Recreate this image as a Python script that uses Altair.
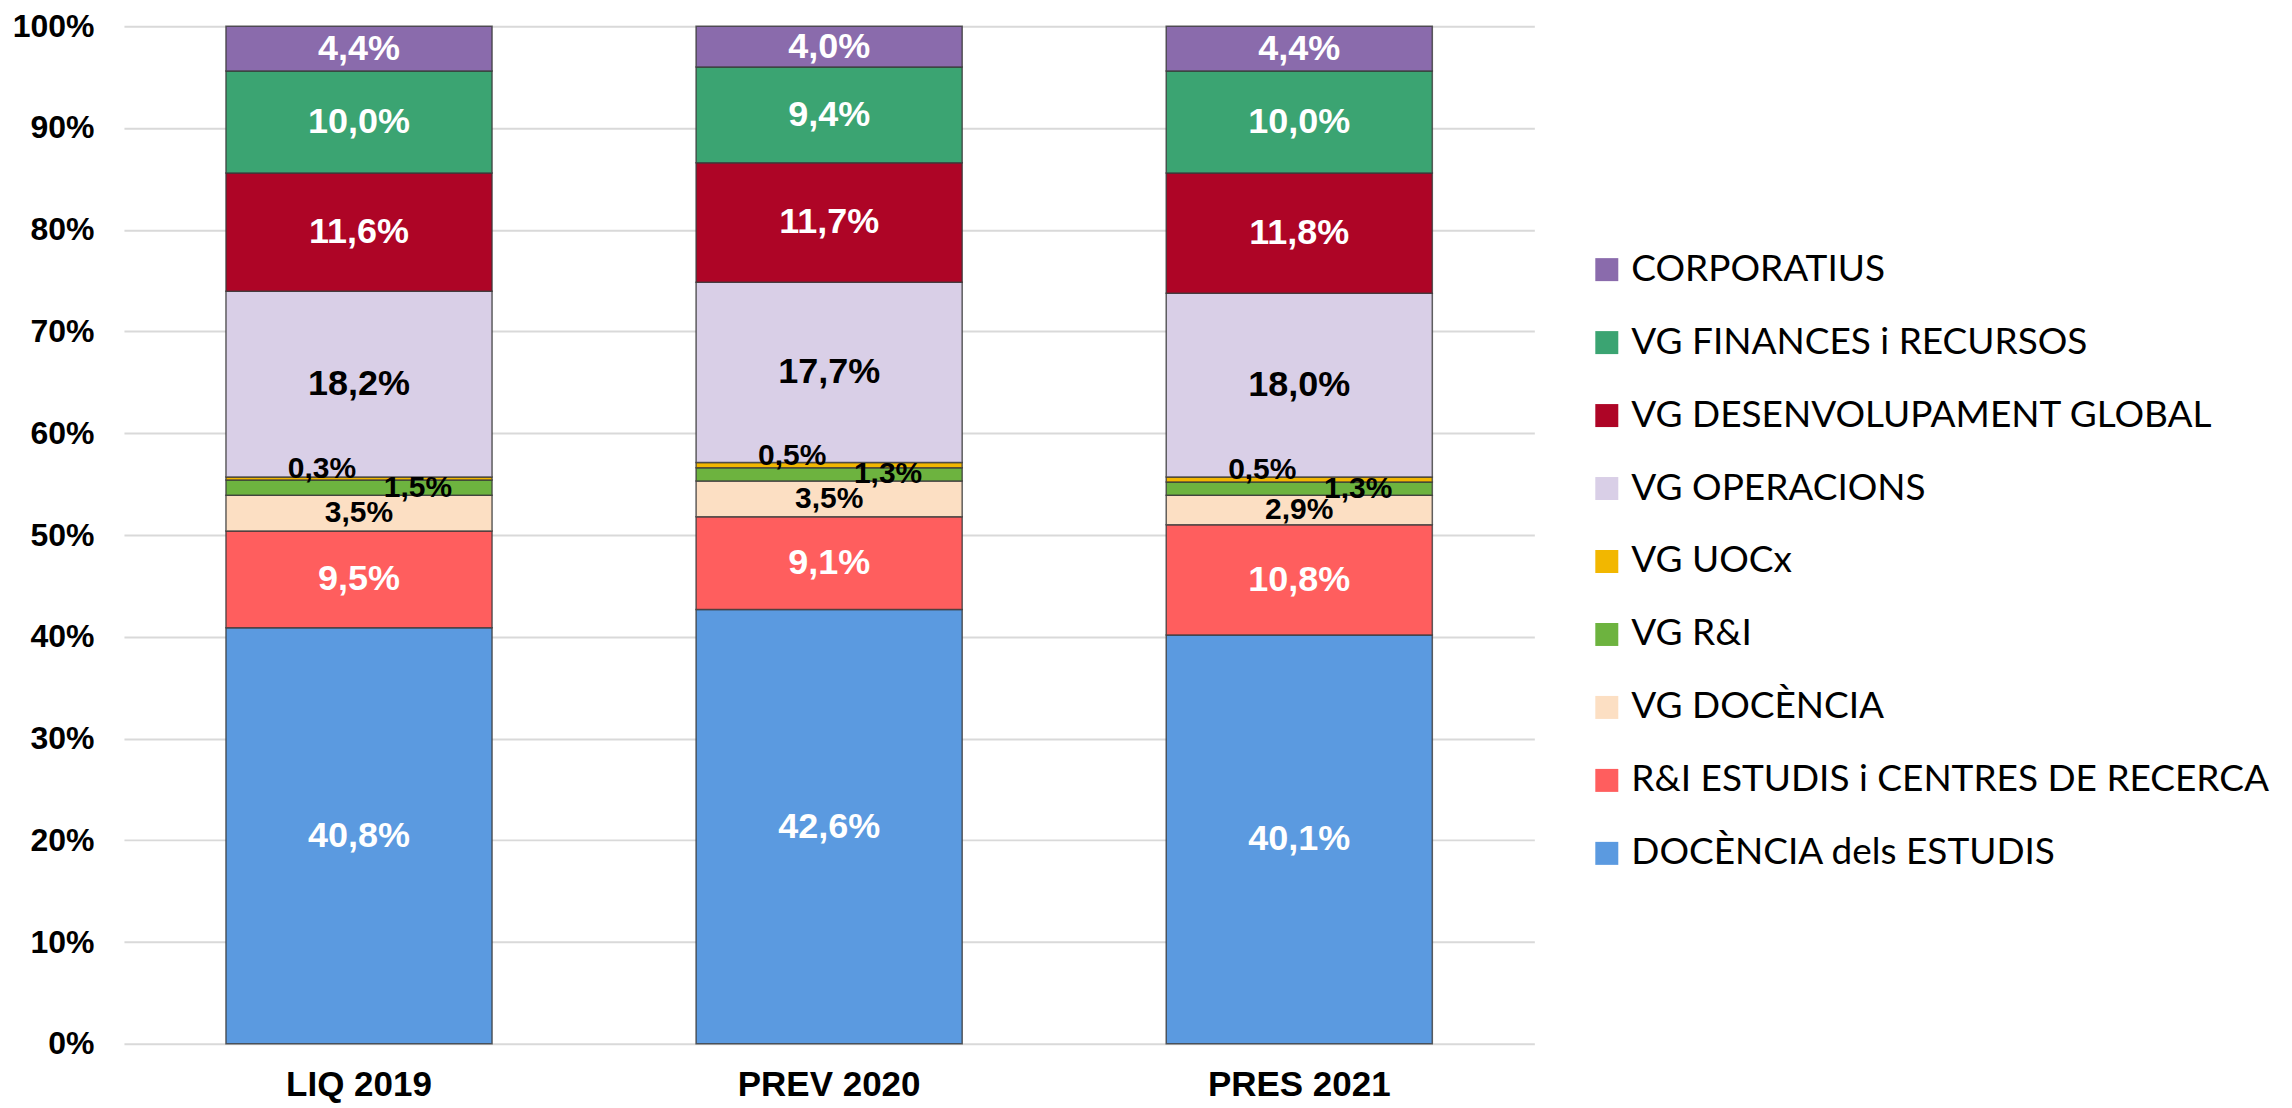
import altair as alt
import pandas as pd

categories = ["LIQ 2019", "PREV 2020", "PRES 2021"]

# stacking order, bottom to top
series = [
    "DOCÈNCIA dels ESTUDIS",
    "R&I ESTUDIS i CENTRES DE RECERCA",
    "VG DOCÈNCIA",
    "VG R&I",
    "VG UOCx",
    "VG OPERACIONS",
    "VG DESENVOLUPAMENT GLOBAL",
    "VG FINANCES i RECURSOS",
    "CORPORATIUS",
]
docencia_estudis = [40.8, 42.6, 40.1]
ri_estudis = [9.5, 9.1, 10.8]
vg_docencia = [3.5, 3.5, 2.9]
vg_ri = [1.5, 1.3, 1.3]
vg_uocx = [0.3, 0.5, 0.5]
vg_operacions = [18.2, 17.7, 18.0]
vg_desenvolupament = [11.6, 11.7, 11.8]
vg_finances = [10.0, 9.4, 10.0]
corporatius = [4.4, 4.0, 4.4]

series_colors = [
    "#5B9AE0",
    "#FF5E5E",
    "#FCDFC3",
    "#6DB33F",
    "#F2B700",
    "#D9CFE7",
    "#AE0526",
    "#3BA472",
    "#8A6BAC",
]

values_by_series = [
    docencia_estudis, ri_estudis, vg_docencia, vg_ri, vg_uocx,
    vg_operacions, vg_desenvolupament, vg_finances, corporatius,
]

rows = []
for k, (s, vals) in enumerate(zip(series, values_by_series)):
    for c, v in zip(categories, vals):
        rows.append({"category": c, "series": s, "value": v, "ord": k})
df = pd.DataFrame(rows)

legend_order = series[::-1]
legend_colors = series_colors[::-1]

base = alt.Chart(df).transform_stack(
    as_=["y0", "y1"],
    stack="value",
    groupby=["category"],
    offset="normalize",
    sort=[alt.SortField("ord", order="ascending")],
).transform_calculate(
    mid="(datum.y0 + datum.y1) / 2",
    label="replace(format(datum.value, '.1f'), '.', ',') + '%'",
)

x_enc = alt.X(
    "category:N",
    sort=categories,
    scale=alt.Scale(paddingInner=0.434, paddingOuter=0.217),
    axis=alt.Axis(
        title=None, labelAngle=0, labelFont="Liberation Sans",
        labelFontWeight="bold", labelFontSize=35, labelColor="black",
        ticks=False, domain=False, labelPadding=24, labelLimit=0,
    ),
)

bars = base.mark_bar(stroke="#3a3a3a", strokeWidth=1.5, strokeOpacity=0.8).encode(
    x=x_enc,
    y=alt.Y(
        "y0:Q",
        scale=alt.Scale(domain=[0, 1], nice=False),
        axis=alt.Axis(
            title=None, format=".0%",
            values=[0, 0.1, 0.2, 0.3, 0.4, 0.5, 0.6, 0.7, 0.8, 0.9, 1.0],
            labelFont="Liberation Sans", labelFontWeight="bold",
            labelFontSize=32, labelColor="black",
            grid=True, gridColor="#d9d9d9", gridWidth=2,
            ticks=False, domain=False, labelPadding=30,
        ),
    ),
    y2="y1:Q",
    color=alt.Color(
        "series:N",
        scale=alt.Scale(domain=legend_order, range=legend_colors),
        legend=alt.Legend(
            title=None, orient="none", legendX=1465, legendY=225,
            direction="vertical", symbolType="square", symbolSize=529,
            symbolStrokeWidth=0, labelFont="Lato", labelFontSize=37,
            labelColor="black", rowPadding=35, labelOffset=6,
            padding=0, labelLimit=0,
        ),
    ),
)

def text_layer(names, color, size, dx=0, dy=0):
    return base.transform_filter(
        alt.FieldOneOfPredicate(field="series", oneOf=names)
    ).mark_text(
        font="Liberation Sans", fontWeight="bold", fontSize=size,
        color=color, dx=dx, dy=dy,
    ).encode(
        x=alt.X("category:N", sort=categories),
        y=alt.Y("mid:Q"),
        text="label:N",
    )

white_text = text_layer(
    ["DOCÈNCIA dels ESTUDIS", "R&I ESTUDIS i CENTRES DE RECERCA",
     "VG DESENVOLUPAMENT GLOBAL", "VG FINANCES i RECURSOS", "CORPORATIUS"],
    "white", 36,
)
oper_text = text_layer(["VG OPERACIONS"], "black", 36)
vgdoc_text = text_layer(["VG DOCÈNCIA"], "black", 30)
vgri_text = text_layer(["VG R&I"], "black", 30, dx=59)
uocx_text = text_layer(["VG UOCx"], "black", 30, dx=-37, dy=-9)

chart = alt.layer(
    bars, white_text, oper_text, vgdoc_text, vgri_text, uocx_text
).properties(
    width=1411,
    height=1018,
    autosize=alt.AutoSizeParams(type="none"),
    padding={"left": 116, "top": 18, "right": 750, "bottom": 60},
).configure_view(stroke=None)

chart.save("out.html", embed_options={"renderer": "svg", "actions": False})
